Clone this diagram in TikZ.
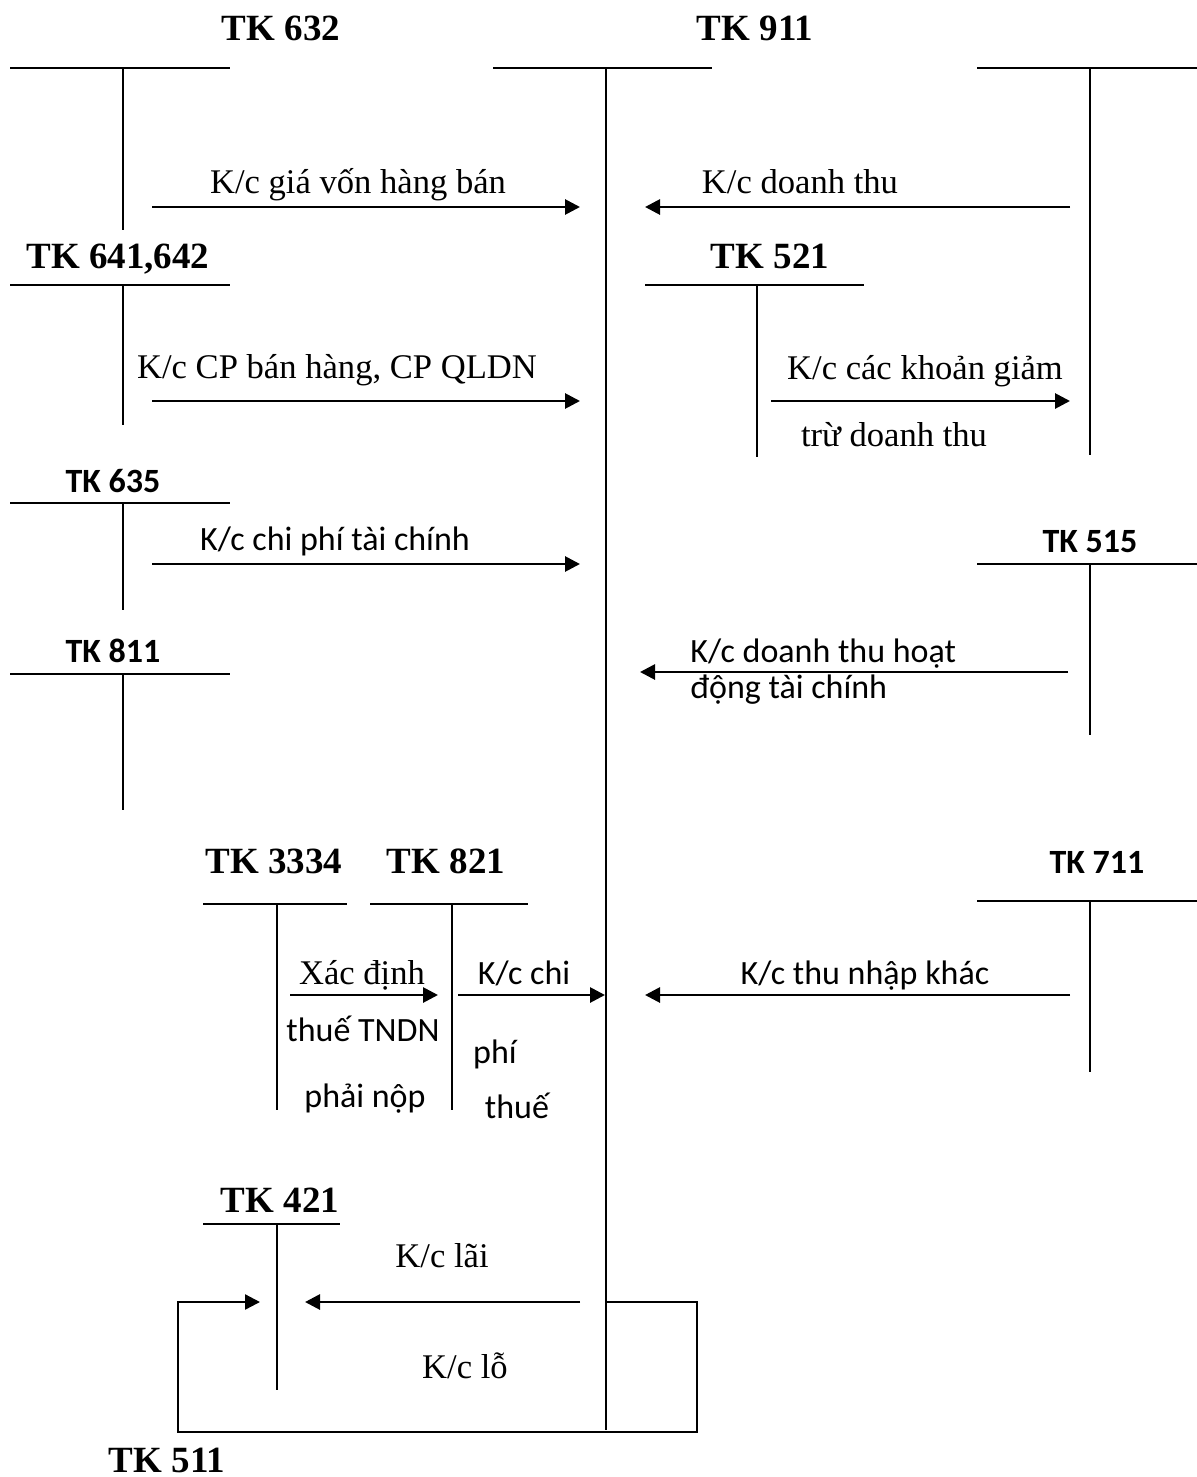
\documentclass[tikz,border=0pt]{standalone}
\usepackage{fontspec}
\setmainfont{Liberation Serif}
\newfontfamily\calfont{Carlito}
\usetikzlibrary{arrows.meta}
\newcommand\TAcc[6]{% name, xl, xr, xv, ytop, ybot
  \coordinate (#1hl) at (#2,#5);
  \coordinate (#1hr) at (#3,#5);
  \coordinate (#1vt) at (#4,#5);
  \coordinate (#1vb) at (#4,#6);
  \draw[tline] (#1hl) -- (#1hr);
  \draw[tline] (#1vt) -- (#1vb);}
\begin{document}
\begin{tikzpicture}[x=0.5pt,y=-0.5pt,
 tline/.style={line width=1.1pt},
 flow/.style={line width=1.4pt,-{Triangle[length=7.5pt,width=7.5pt]}},
 loopline/.style={line width=1.2pt,-{Triangle[length=7.5pt,width=7.5pt]}},
 ttl/.style={anchor=base,font=\fontsize{18.5}{20}\selectfont\bfseries,inner sep=0pt},
 cttl/.style={anchor=base,font=\fontsize{17}{20}\selectfont\calfont\bfseries,inner sep=0pt},
 lbl/.style={anchor=base,font=\fontsize{17.3}{20}\selectfont,inner sep=0pt},
 clbl/.style={anchor=base,font=\fontsize{17}{20}\selectfont\calfont,inner sep=0pt},
]
\useasboundingbox (0,0) rectangle (1197,1477);

% T-accounts
\TAcc{a632}{10}{230}{123}{68}{230}
\TAcc{a911}{493}{712}{606}{68}{1430}
\TAcc{a511}{977}{1197}{1090}{68}{455}
\TAcc{a641}{10}{230}{123}{285}{425}
\TAcc{a521}{645}{864}{757}{285}{457}
\TAcc{a635}{10}{230}{123}{503}{610}
\TAcc{a515}{977}{1197}{1090}{564}{735}
\TAcc{a811}{10}{230}{123}{674}{810}
\TAcc{a3334}{203}{347}{277}{904}{1110}
\TAcc{a821}{370}{528}{452}{904}{1110}
\TAcc{a711}{977}{1197}{1090}{901}{1072}
\TAcc{a421}{203}{340}{277}{1224}{1390}

% titles
\node[ttl] (t632) at (281,41) {TK 632};
\node[ttl] (t911) at (755,41) {TK 911};
\node[ttl] (t641) at (118,268) {TK 641,642};
\node[ttl] (t521) at (770,268) {TK 521};
\node[cttl] (t635) at (113,492) {TK 635};
\node[cttl] (t515) at (1090,552) {TK 515};
\node[cttl] (t811) at (113,662) {TK 811};
\node[ttl] (t3334) at (274,873) {TK 3334};
\node[ttl] (t821) at (446,873) {TK 821};
\node[cttl] (t711) at (1097,873) {TK 711};
\node[ttl] (t421) at (280,1212) {TK 421};
\node[ttl] (t511) at (167,1472) {TK 511};

% arrow end points
\coordinate (s1) at (152,207); \coordinate (e1) at (580,207);
\coordinate (s2) at (1070,207); \coordinate (e2) at (645,207);
\coordinate (s3) at (152,401); \coordinate (e3) at (580,401);
\coordinate (s4) at (771,401); \coordinate (e4) at (1070,401);
\coordinate (s5) at (152,564); \coordinate (e5) at (580,564);
\coordinate (s6) at (1068,672); \coordinate (e6) at (640,672);
\coordinate (s7) at (290,995); \coordinate (e7) at (438,995);
\coordinate (s8) at (458,995); \coordinate (e8) at (605,995);
\coordinate (s9) at (1070,995); \coordinate (e9) at (645,995);
\coordinate (s10) at (580,1302); \coordinate (e10) at (305,1302);
\coordinate (k0) at (606,1302); \coordinate (k1) at (697,1302);
\coordinate (k2) at (697,1432); \coordinate (k3) at (178,1432);
\coordinate (k4) at (178,1302); \coordinate (k5) at (260,1302);

\draw[flow] (s1) -- (e1);
\draw[flow] (s2) -- (e2);
\draw[flow] (s3) -- (e3);
\draw[flow] (s4) -- (e4);
\draw[flow] (s5) -- (e5);
\draw[flow] (s6) -- (e6);
\draw[flow] (s7) -- (e7);
\draw[flow] (s8) -- (e8);
\draw[flow] (s9) -- (e9);
\draw[flow] (s10) -- (e10);
\draw[loopline] (k0) -- (k1) -- (k2) -- (k3) -- (k4) -- (k5);

% labels
\node[lbl] (l1) at (358,193) {K/c giá vốn hàng bán};
\node[lbl] (l2) at (800,193) {K/c doanh thu};
\node[lbl] (l3) at (337,378) {K/c CP bán hàng, CP QLDN};
\node[lbl] (l4a) at (925,379) {K/c các khoản giảm};
\node[lbl] (l4b) at (894,446) {trừ doanh thu};
\node[clbl] (l5) at (335,550) {K/c chi phí tài chính};
\node[clbl,anchor=base west] (l6a) at (690,662) {K/c doanh thu hoạt};
\node[clbl,anchor=base west] (l6b) at (690,698) {động tài chính};
\node[lbl] (l7a) at (362,984) {Xác định};
\node[clbl] (l7b) at (363,1041) {thuế TNDN};
\node[clbl] (l7c) at (365,1107) {phải nộp};
\node[clbl] (l8a) at (524,984) {K/c chi};
\node[clbl] (l8b) at (495,1063) {phí};
\node[clbl] (l8c) at (517,1118) {thuế};
\node[clbl] (l9) at (865,984) {K/c thu nhập khác};
\node[lbl] (l10) at (442,1267) {K/c lãi};
\node[lbl] (l11) at (465,1378) {K/c lỗ};
\end{tikzpicture}
\end{document}
